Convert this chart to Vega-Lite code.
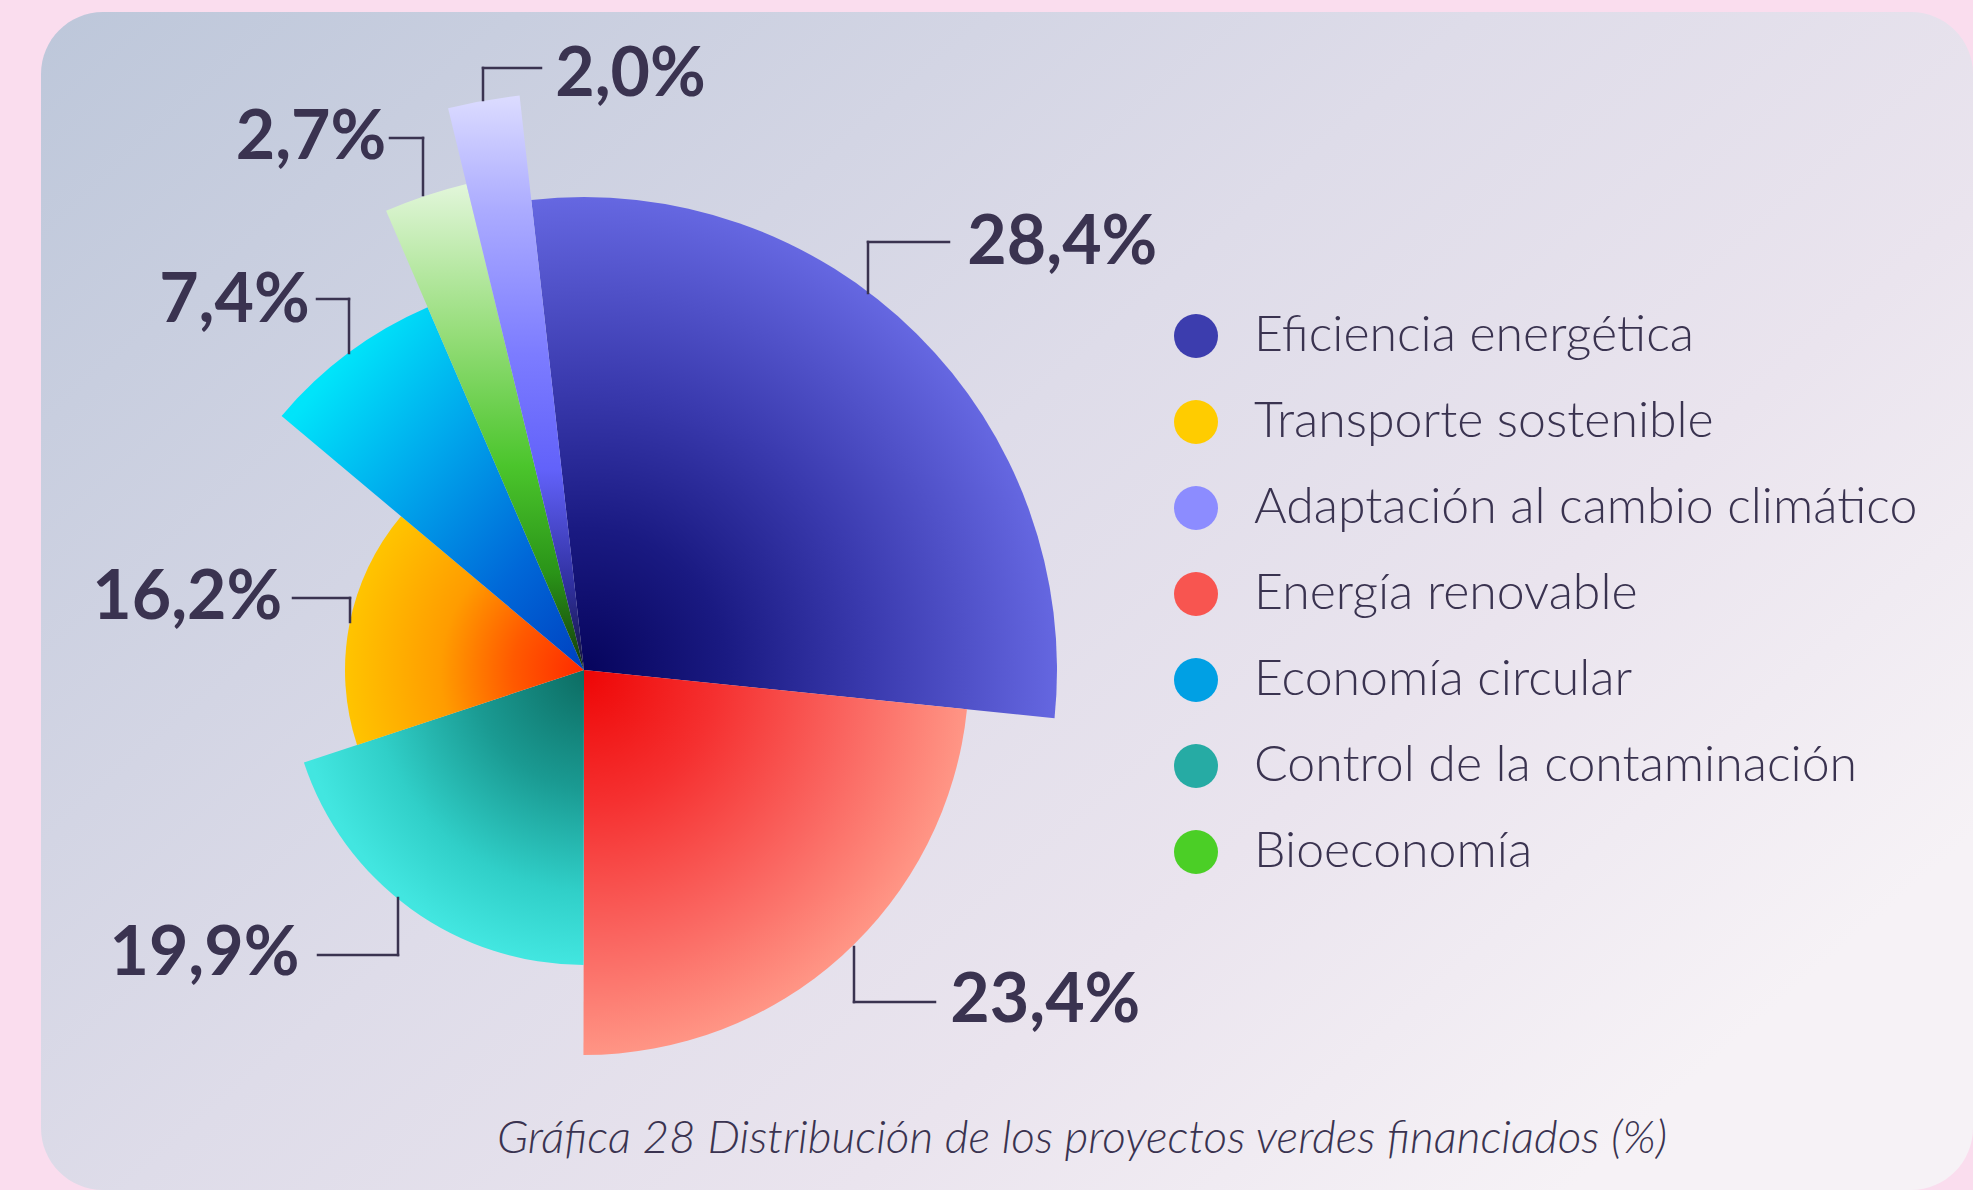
{
  "$schema": "https://vega.github.io/schema/vega-lite/v6.json",
  "width": 1932,
  "height": 1178,
  "padding": {"left": 41, "top": 12, "right": 0, "bottom": 0},
  "autosize": {"type": "none"},
  "background": "#FADDEE",
  "config": {
    "view": {
      "cornerRadius": 62,
      "stroke": null,
      "fill": {"gradient": "linear", "x1": 0, "y1": 0, "x2": 1, "y2": 0.7,
        "stops": [{"offset": 0, "color": "#BDC7DA"}, {"offset": 0.5, "color": "#DEDCE9"}, {"offset": 0.75, "color": "#EAE4EE"}, {"offset": 1, "color": "#F6F2F6"}]}
    },
    "legend": {
      "title": null, "orient": "none", "legendX": 1130, "legendY": 299, "padding": 0,
      "symbolType": "circle", "symbolSize": 1936, "symbolOpacity": 1, "symbolStrokeWidth": 0,
      "labelFont": "Lato", "labelFontSize": 50, "labelFontWeight": 300, "labelColor": "#3A3350",
      "labelOffset": 33, "rowPadding": 36, "labelLimit": 1000
    }
  },
  "title": {
    "text": "Gráfica 28 Distribución de los proyectos verdes financiados (%)",
    "orient": "bottom", "anchor": "middle", "frame": "group", "offset": -37, "baseline": "alphabetic", "dx": 75,
    "font": "Lato", "fontSize": 46, "fontStyle": "italic", "fontWeight": 300, "color": "#3A3350"
  },
  "data": {"values": [
    {"categoria": "Eficiencia energética", "porcentaje": 28.4, "orden": 1},
    {"categoria": "Energía renovable", "porcentaje": 23.4, "orden": 2},
    {"categoria": "Control de la contaminación", "porcentaje": 19.9, "orden": 3},
    {"categoria": "Transporte sostenible", "porcentaje": 16.2, "orden": 4},
    {"categoria": "Economía circular", "porcentaje": 7.4, "orden": 5},
    {"categoria": "Bioeconomía", "porcentaje": 2.7, "orden": 6},
    {"categoria": "Adaptación al cambio climático", "porcentaje": 2.0, "orden": 7}
  ]},
  "transform": [
    {"stack": "porcentaje", "groupby": [], "sort": [{"field": "orden", "order": "ascending"}], "as": ["inicio", "fin"]},
    {"calculate": "(datum.inicio + datum.fin) / 2", "as": "medio"},
    {"calculate": "replace(format(datum.porcentaje, '.1f'), '.', ',') + '%'", "as": "etiqueta"}
  ],
  "encoding": {
    "x": {"datum": 0, "type": "quantitative", "scale": {"domain": [-543, 1389], "nice": false, "zero": false}, "axis": null},
    "y": {"datum": 0, "type": "quantitative", "scale": {"domain": [-658, 520], "nice": false, "zero": false, "reverse": true}, "axis": null}
  },
  "layer": [
    {
      "mark": {"type": "point", "filled": true, "opacity": 0},
      "encoding": {
        "color": {"field": "categoria", "type": "nominal",
          "scale": {"domain": ["Eficiencia energética", "Transporte sostenible", "Adaptación al cambio climático", "Energía renovable", "Economía circular", "Control de la contaminación", "Bioeconomía"],
                    "range": ["#3C3DAE", "#FFCC00", "#8C8CFF", "#F85550", "#00A0E4", "#26ABA4", "#4BCF26"]},
          "legend": {}}
      }
    },
    {
      "transform": [{"filter": "datum.orden === 1"}],
      "layer": [
        {"mark": {"type": "arc", "radius": 473, "fill": {"gradient": "radial", "x1": 0.1, "y1": 0.908, "r1": 0, "x2": 0.1, "y2": 0.908, "r2": 0.91,
            "stops": [{"offset": 0, "color": "#06045C"}, {"offset": 0.3, "color": "#1A1A82"}, {"offset": 0.6, "color": "#3A3AAE"}, {"offset": 1, "color": "#6668E2"}]}},
         "encoding": {"theta": {"field": "inicio", "type": "quantitative", "stack": null, "scale": {"domain": [0, 100], "range": [-0.1117, 6.1715]}}, "theta2": {"field": "fin"}}},
        {"mark": {"type": "text", "radius": 640, "dx": 28, "dy": 29, "font": "Lato", "fontSize": 68, "fontWeight": "bold", "color": "#3A3350", "align": "center", "baseline": "middle"},
         "encoding": {"theta": {"field": "medio", "type": "quantitative", "stack": null}, "text": {"field": "etiqueta"}}},
        {"mark": {"type": "rule", "color": "#3A3350", "strokeWidth": 2.5, "strokeCap": "square"}, "encoding": {"x": {"datum": 284}, "y": {"datum": -377}, "y2": {"datum": -428}}},
        {"mark": {"type": "rule", "color": "#3A3350", "strokeWidth": 2.5, "strokeCap": "square"}, "encoding": {"x": {"datum": 284}, "x2": {"datum": 365}, "y": {"datum": -428}}}
      ]
    },
    {
      "transform": [{"filter": "datum.orden === 2"}],
      "layer": [
        {"mark": {"type": "arc", "radius": 385, "fill": {"gradient": "radial", "x1": 0.0, "y1": 0, "r1": 0, "x2": 0.0, "y2": 0, "r2": 1.0,
            "stops": [{"offset": 0, "color": "#EE0505"}, {"offset": 0.35, "color": "#F53030"}, {"offset": 0.7, "color": "#FA6560"}, {"offset": 1, "color": "#FF9585"}]}},
         "encoding": {"theta": {"field": "inicio", "type": "quantitative", "stack": null}, "theta2": {"field": "fin"}}},
        {"mark": {"type": "text", "radius": 568, "dx": 81, "dy": -90, "font": "Lato", "fontSize": 68, "fontWeight": "bold", "color": "#3A3350", "align": "center", "baseline": "middle"},
         "encoding": {"theta": {"field": "medio", "type": "quantitative", "stack": null}, "text": {"field": "etiqueta"}}},
        {"mark": {"type": "rule", "color": "#3A3350", "strokeWidth": 2.5, "strokeCap": "square"}, "encoding": {"x": {"datum": 270}, "y": {"datum": 277}, "y2": {"datum": 332}}},
        {"mark": {"type": "rule", "color": "#3A3350", "strokeWidth": 2.5, "strokeCap": "square"}, "encoding": {"x": {"datum": 270}, "x2": {"datum": 351}, "y": {"datum": 332}}}
      ]
    },
    {
      "transform": [{"filter": "datum.orden === 3"}],
      "layer": [
        {"mark": {"type": "arc", "radius": 295, "fill": {"gradient": "radial", "x1": 1, "y1": 0, "r1": 0, "x2": 1, "y2": 0, "r2": 1.0,
            "stops": [{"offset": 0, "color": "#0C6A60"}, {"offset": 0.4, "color": "#1A9A92"}, {"offset": 0.75, "color": "#30CFC8"}, {"offset": 1, "color": "#42E6E0"}]}},
         "encoding": {"theta": {"field": "inicio", "type": "quantitative", "stack": null}, "theta2": {"field": "fin"}}},
        {"mark": {"type": "text", "radius": 475, "dx": -101, "dy": -100, "font": "Lato", "fontSize": 68, "fontWeight": "bold", "color": "#3A3350", "align": "center", "baseline": "middle"},
         "encoding": {"theta": {"field": "medio", "type": "quantitative", "stack": null}, "text": {"field": "etiqueta"}}},
        {"mark": {"type": "rule", "color": "#3A3350", "strokeWidth": 2.5, "strokeCap": "square"}, "encoding": {"x": {"datum": -186}, "y": {"datum": 228}, "y2": {"datum": 285}}},
        {"mark": {"type": "rule", "color": "#3A3350", "strokeWidth": 2.5, "strokeCap": "square"}, "encoding": {"x": {"datum": -266}, "x2": {"datum": -186}, "y": {"datum": 285}}}
      ]
    },
    {
      "transform": [{"filter": "datum.orden === 4"}],
      "layer": [
        {"mark": {"type": "arc", "radius": 239, "fill": {"gradient": "radial", "x1": 1, "y1": 0.672, "r1": 0, "x2": 1, "y2": 0.672, "r2": 1.0,
            "stops": [{"offset": 0, "color": "#FF2A00"}, {"offset": 0.3, "color": "#FF5A00"}, {"offset": 0.6, "color": "#FF9C00"}, {"offset": 1, "color": "#FFC400"}]}},
         "encoding": {"theta": {"field": "inicio", "type": "quantitative", "stack": null}, "theta2": {"field": "fin"}}},
        {"mark": {"type": "text", "radius": 403, "dx": -1, "dy": 5, "font": "Lato", "fontSize": 68, "fontWeight": "bold", "color": "#3A3350", "align": "center", "baseline": "middle"},
         "encoding": {"theta": {"field": "medio", "type": "quantitative", "stack": null}, "text": {"field": "etiqueta"}}},
        {"mark": {"type": "rule", "color": "#3A3350", "strokeWidth": 2.5, "strokeCap": "square"}, "encoding": {"x": {"datum": -234}, "y": {"datum": -48}, "y2": {"datum": -72}}},
        {"mark": {"type": "rule", "color": "#3A3350", "strokeWidth": 2.5, "strokeCap": "square"}, "encoding": {"x": {"datum": -291}, "x2": {"datum": -234}, "y": {"datum": -72}}}
      ]
    },
    {
      "transform": [{"filter": "datum.orden === 5"}],
      "layer": [
        {"mark": {"type": "arc", "radius": 395, "fill": {"gradient": "linear", "x1": 1, "y1": 1, "x2": 0, "y2": 0,
            "stops": [{"offset": 0, "color": "#0040C0"}, {"offset": 0.25, "color": "#0068D8"}, {"offset": 0.55, "color": "#00A8EC"}, {"offset": 0.83, "color": "#00E4FA"}, {"offset": 1, "color": "#00E8FC"}]}},
         "encoding": {"theta": {"field": "inicio", "type": "quantitative", "stack": null}, "theta2": {"field": "fin"}}},
        {"mark": {"type": "text", "radius": 507, "dx": -47, "dy": 39, "font": "Lato", "fontSize": 68, "fontWeight": "bold", "color": "#3A3350", "align": "center", "baseline": "middle"},
         "encoding": {"theta": {"field": "medio", "type": "quantitative", "stack": null}, "text": {"field": "etiqueta"}}},
        {"mark": {"type": "rule", "color": "#3A3350", "strokeWidth": 2.5, "strokeCap": "square"}, "encoding": {"x": {"datum": -235}, "y": {"datum": -317}, "y2": {"datum": -371}}},
        {"mark": {"type": "rule", "color": "#3A3350", "strokeWidth": 2.5, "strokeCap": "square"}, "encoding": {"x": {"datum": -267}, "x2": {"datum": -235}, "y": {"datum": -371}}}
      ]
    },
    {
      "transform": [{"filter": "datum.orden === 6"}],
      "layer": [
        {"mark": {"type": "arc", "radius": 500, "fill": {"gradient": "linear", "x1": 0.5, "y1": 1, "x2": 0.5, "y2": 0,
            "stops": [{"offset": 0, "color": "#143A0A"}, {"offset": 0.2, "color": "#2A9418"}, {"offset": 0.42, "color": "#4BC52C"}, {"offset": 0.7, "color": "#98DE7C"}, {"offset": 1, "color": "#E2F6DA"}]}},
         "encoding": {"theta": {"field": "inicio", "type": "quantitative", "stack": null}, "theta2": {"field": "fin"}}},
        {"mark": {"type": "text", "radius": 597, "dx": -84, "dy": 35, "font": "Lato", "fontSize": 68, "fontWeight": "bold", "color": "#3A3350", "align": "center", "baseline": "middle"},
         "encoding": {"theta": {"field": "medio", "type": "quantitative", "stack": null}, "text": {"field": "etiqueta"}}},
        {"mark": {"type": "rule", "color": "#3A3350", "strokeWidth": 2.5, "strokeCap": "square"}, "encoding": {"x": {"datum": -161}, "y": {"datum": -475}, "y2": {"datum": -532}}},
        {"mark": {"type": "rule", "color": "#3A3350", "strokeWidth": 2.5, "strokeCap": "square"}, "encoding": {"x": {"datum": -194}, "x2": {"datum": -161}, "y": {"datum": -532}}}
      ]
    },
    {
      "transform": [{"filter": "datum.orden === 7"}],
      "layer": [
        {"mark": {"type": "arc", "radius": 578, "fill": {"gradient": "linear", "x1": 0.5, "y1": 1, "x2": 0.5, "y2": 0,
            "stops": [{"offset": 0, "color": "#14143A"}, {"offset": 0.15, "color": "#3030A0"}, {"offset": 0.35, "color": "#6262FA"}, {"offset": 0.55, "color": "#7C7CFF"}, {"offset": 0.8, "color": "#ABABFF"}, {"offset": 1, "color": "#DCDCFF"}]}},
         "encoding": {"theta": {"field": "inicio", "type": "quantitative", "stack": null}, "theta2": {"field": "fin"}}},
        {"mark": {"type": "text", "radius": 596, "dx": 150, "dy": -7, "font": "Lato", "fontSize": 68, "fontWeight": "bold", "color": "#3A3350", "align": "center", "baseline": "middle"},
         "encoding": {"theta": {"field": "medio", "type": "quantitative", "stack": null}, "text": {"field": "etiqueta"}}},
        {"mark": {"type": "rule", "color": "#3A3350", "strokeWidth": 2.5, "strokeCap": "square"}, "encoding": {"x": {"datum": -101}, "y": {"datum": -570}, "y2": {"datum": -602}}},
        {"mark": {"type": "rule", "color": "#3A3350", "strokeWidth": 2.5, "strokeCap": "square"}, "encoding": {"x": {"datum": -101}, "x2": {"datum": -43}, "y": {"datum": -602}}}
      ]
    }
  ]
}
